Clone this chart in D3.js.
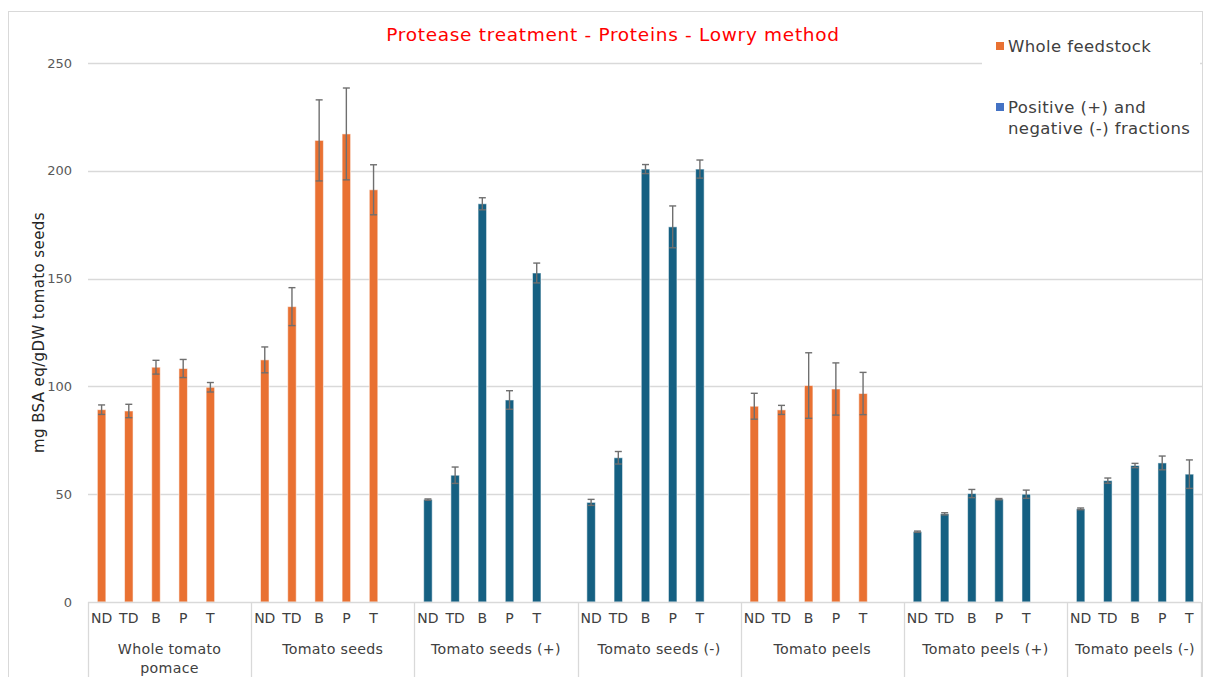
<!DOCTYPE html>
<html>
<head>
<meta charset="utf-8">
<script src="https://cdn.jsdelivr.net/npm/d3@7"></script>
<style>
  html, body { margin: 0; padding: 0; background: #fff; }
  svg { display: block; font-family: "DejaVu Sans", sans-serif; }
</style>
</head>
<body>
<svg id="chart" width="1205" height="677"></svg>
<script>
// Protein content (Lowry, mg BSA eq / g DW) after protease treatment
const groups = [
  "Whole tomato pomace", "Tomato seeds", "Tomato seeds (+)", "Tomato seeds (-)",
  "Tomato peels", "Tomato peels (+)", "Tomato peels (-)"
];
const treatments = ["ND", "TD", "B", "P", "T"];
// which legend series each feedstock belongs to
const groupSeries = ["whole", "whole", "fraction", "fraction", "whole", "fraction", "fraction"];
const means = [
  [89.2, 88.6, 108.9, 108.3, 99.6],
  [112.3, 137.0, 214.1, 217.1, 191.2],
  [47.5, 58.8, 184.7, 93.7, 152.6],
  [46.2, 66.9, 200.8, 174.0, 200.8],
  [90.8, 89.1, 100.4, 98.8, 96.7],
  [32.6, 40.9, 50.3, 47.7, 50.0],
  [43.2, 56.3, 63.3, 64.5, 59.3]
];
const errors = [
  [2.2, 3.1, 3.2, 4.2, 2.2],
  [6.0, 8.8, 18.8, 21.3, 11.6],
  [0.3, 3.8, 2.8, 4.3, 4.6],
  [1.4, 2.9, 2.1, 9.7, 4.2],
  [6.0, 2.1, 15.2, 12.1, 9.8],
  [0.3, 0.5, 1.9, 0.3, 1.9],
  [0.4, 1.2, 1.0, 3.2, 6.6]
];
const yTicks = [0, 50, 100, 150, 200, 250];
const legendItems = [
  { key: "whole", lines: ["Whole feedstock"] },
  { key: "fraction", lines: ["Positive (+) and", "negative (-) fractions"] }
];
const barColor = { whole: "#E97132", fraction: "#156082" };
const legendColor = { whole: "#E97132", fraction: "#4472C4" };

const svg = d3.select("#chart");
const plot = { left: 88, right: 1203, top: 63, bottom: 602 };

// chart frame
svg.append("rect")
  .attr("x", 8.5).attr("y", 11.5)
  .attr("width", 1194).attr("height", 680)
  .attr("fill", "#fff").attr("stroke", "#d9d9d9").attr("stroke-width", 1);

const y = d3.scaleLinear().domain([0, 250]).range([plot.bottom, plot.top]);

// one slot per treatment, with an empty spacer slot after every feedstock but the last
const slots = [];
groups.forEach((g, gi) => {
  treatments.forEach(t => slots.push(g + "|" + t));
  if (gi < groups.length - 1) slots.push(g + "|_gap");
});
const x = d3.scaleBand().domain(slots).range([plot.left, plot.right]).padding(0);
const lastSlot = g => (x(g + "|_gap") !== undefined ? g + "|_gap" : g + "|T");
const groupStart = g => x(g + "|ND");
const groupEnd = g => x(lastSlot(g)) + x.bandwidth();
const barW = 8.5;

// gridlines
svg.append("g")
  .selectAll("line")
  .data(yTicks.filter(d => d > 0))
  .join("line")
  .attr("x1", plot.left).attr("x2", plot.right)
  .attr("y1", d => Math.round(y(d)) + 0.5).attr("y2", d => Math.round(y(d)) + 0.5)
  .attr("stroke", "#d9d9d9").attr("stroke-width", 1.3);

// y axis labels
const yAxis = svg.append("g")
  .attr("transform", `translate(${plot.left - 16},0)`)
  .call(d3.axisLeft(y).tickValues(yTicks).tickSize(0).tickPadding(0));
yAxis.select(".domain").remove();
yAxis.selectAll("text")
  .attr("font-family", "DejaVu Sans, sans-serif")
  .attr("font-size", 13).attr("fill", "#595959");

// y axis title
svg.append("text")
  .attr("transform", `translate(44,${(plot.top + plot.bottom) / 2}) rotate(-90)`)
  .attr("text-anchor", "middle")
  .attr("font-size", 15).attr("letter-spacing", 0.4).attr("fill", "#262626")
  .text("mg BSA eq/gDW tomato seeds");

// bars
const rows = [];
groups.forEach((g, gi) => {
  treatments.forEach((t, ti) => {
    rows.push({ key: g + "|" + t, series: groupSeries[gi], value: means[gi][ti], err: errors[gi][ti] });
  });
});
const cx = d => x(d.key) + x.bandwidth() / 2;

svg.append("g")
  .selectAll("rect")
  .data(rows)
  .join("rect")
  .attr("x", d => cx(d) - barW / 2)
  .attr("y", d => y(d.value))
  .attr("width", barW)
  .attr("height", d => y(0) - y(d.value))
  .attr("fill", d => barColor[d.series])
  .attr("stroke", "#ffffff").attr("stroke-opacity", 0.55).attr("stroke-width", 1);

// error bars
const eg = svg.append("g").attr("stroke", "#6f6f6f").attr("stroke-width", 1.4);
eg.selectAll("line.v")
  .data(rows)
  .join("line").attr("class", "v")
  .attr("x1", cx).attr("x2", cx)
  .attr("y1", d => y(d.value + d.err)).attr("y2", d => y(d.value - d.err));
eg.selectAll("line.top")
  .data(rows)
  .join("line").attr("class", "top")
  .attr("x1", d => cx(d) - 3.5).attr("x2", d => cx(d) + 3.5)
  .attr("y1", d => y(d.value + d.err)).attr("y2", d => y(d.value + d.err));
eg.selectAll("line.bot")
  .data(rows)
  .join("line").attr("class", "bot")
  .attr("x1", d => cx(d) - 3.5).attr("x2", d => cx(d) + 3.5)
  .attr("y1", d => y(d.value - d.err)).attr("y2", d => y(d.value - d.err));

// x axis baseline and feedstock dividers
svg.append("line")
  .attr("x1", plot.left).attr("x2", plot.right - 2)
  .attr("y1", plot.bottom + 0.5).attr("y2", plot.bottom + 0.5)
  .attr("stroke", "#d9d9d9").attr("stroke-width", 1.3);
const bounds = groups.map(g => groupStart(g)).concat([plot.right - 2]);
svg.append("g")
  .selectAll("line")
  .data(bounds)
  .join("line")
  .attr("x1", d => Math.round(d) + 0.5).attr("x2", d => Math.round(d) + 0.5)
  .attr("y1", plot.bottom).attr("y2", 677)
  .attr("stroke", "#d9d9d9").attr("stroke-width", 1.3);

// treatment tick labels
const xAxis = svg.append("g")
  .attr("transform", `translate(0,${plot.bottom})`)
  .call(d3.axisBottom(x)
    .tickValues(slots.filter(s => !s.endsWith("_gap")))
    .tickFormat(s => s.split("|")[1])
    .tickSize(0).tickPadding(11));
xAxis.select(".domain").remove();
xAxis.selectAll("text")
  .attr("font-family", "DejaVu Sans, sans-serif")
  .attr("font-size", 14).attr("fill", "#404040");

// feedstock labels (wrapped where needed)
const groupLines = { "Whole tomato pomace": ["Whole tomato", "pomace"] };
groups.forEach(g => {
  const lines = groupLines[g] || [g];
  const t = svg.append("text")
    .attr("text-anchor", "middle")
    .attr("font-size", 14.2).attr("letter-spacing", 0.3).attr("fill", "#404040");
  lines.forEach((ln, i) => {
    t.append("tspan")
      .attr("x", (groupStart(g) + groupEnd(g)) / 2)
      .attr("y", 654 + i * 19)
      .text(ln);
  });
});

// title
svg.append("text")
  .attr("x", 613).attr("y", 41)
  .attr("text-anchor", "middle")
  .attr("font-size", 18.5).attr("letter-spacing", 0.7).attr("fill", "#ff0000")
  .text("Protease treatment - Proteins - Lowry method");

// legend (opaque box over the plot area)
svg.append("rect")
  .attr("x", 982).attr("y", 30).attr("width", 218).attr("height", 115)
  .attr("fill", "#fff");
const lg = svg.append("g");
legendItems.forEach((item, i) => {
  const top = 46 + i * 61;
  lg.append("rect")
    .attr("x", 996).attr("y", top - 4).attr("width", 8).attr("height", 8)
    .attr("fill", legendColor[item.key]);
  const t = lg.append("text").attr("font-size", 16.5).attr("letter-spacing", 0.4).attr("fill", "#404040");
  item.lines.forEach((ln, j) => {
    t.append("tspan").attr("x", 1008).attr("y", top + 6 + j * 21).text(ln);
  });
});
</script>
</body>
</html>
